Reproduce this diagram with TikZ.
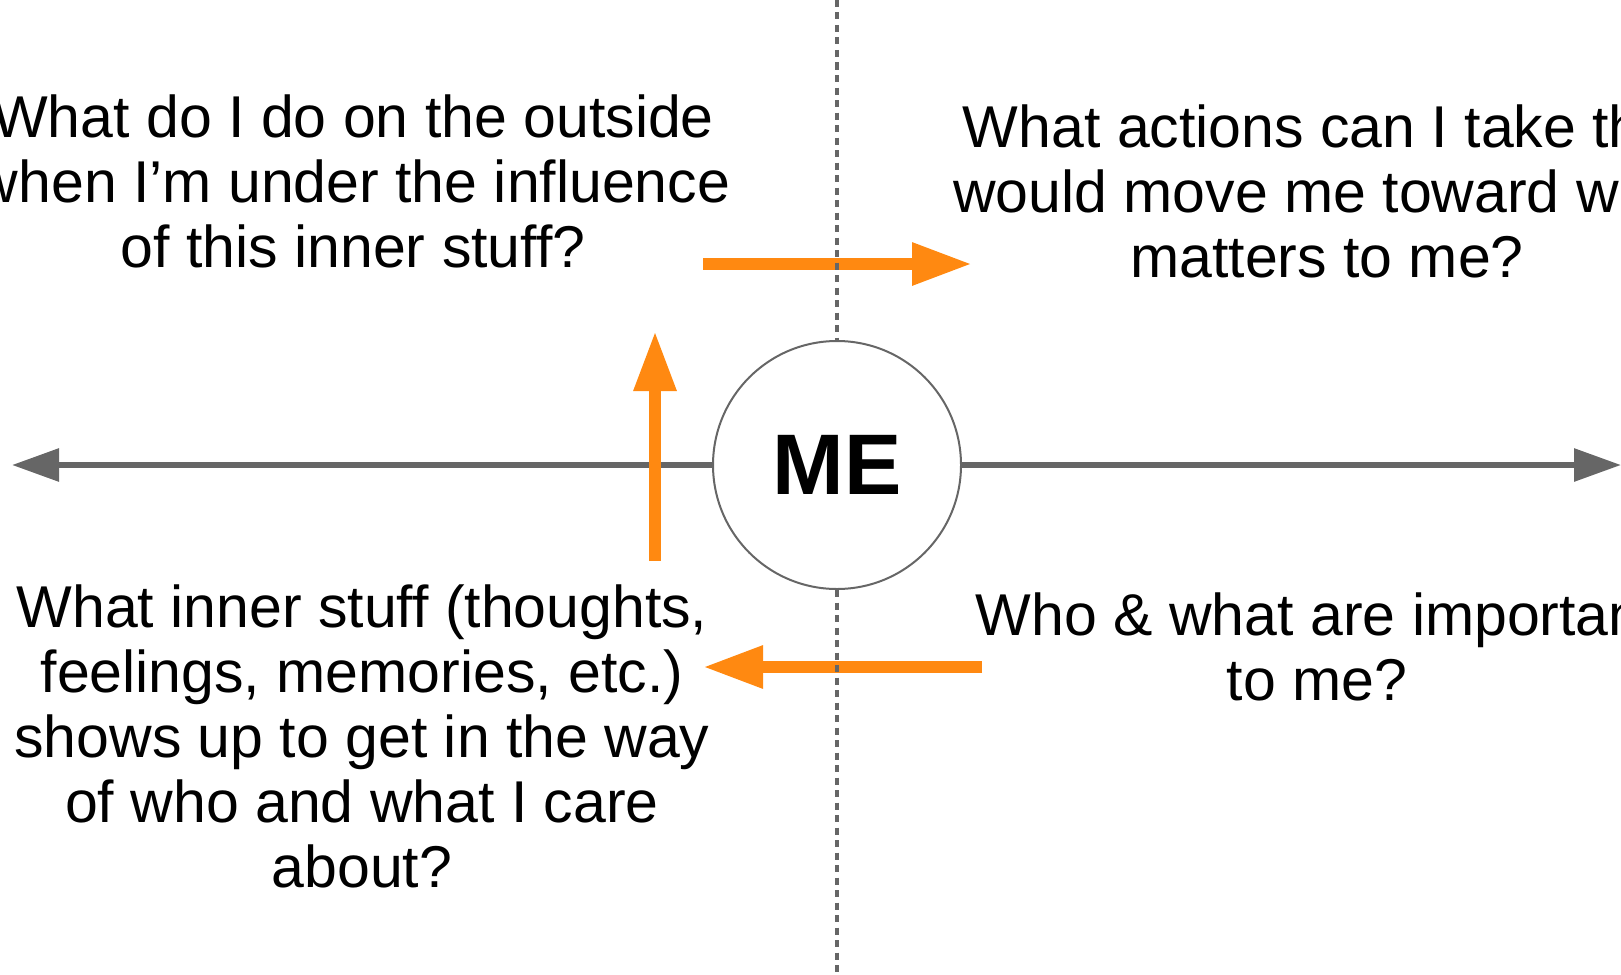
\documentclass[tikz,border=0pt]{standalone}
\usepackage{fontspec}
\setmainfont{Liberation Sans}
\usetikzlibrary{arrows.meta}

\definecolor{axisgray}{RGB}{102,102,102}
\definecolor{steporange}{RGB}{255,137,17}

\tikzset{
	question/.style={align=center, inner sep=0pt, font=\fontsize{59}{65}\selectfont},
	axis/.style={draw=axisgray, line width=6pt, -{Triangle[length=47pt,width=32pt]}},
	move/.style={draw=steporange, line width=12pt, -{Triangle[length=60pt,width=40pt]}},
	divider/.style={draw=axisgray, line width=4pt, dash pattern=on 7pt off 5.5pt},
}

\begin{document}
\begin{tikzpicture}[x=1pt,y=-1pt]
			
			\useasboundingbox (0,0) rectangle (1621,974);
			
			% the self in the middle
			\node[circle, draw=axisgray, line width=2pt, minimum size=248pt, inner sep=0pt,
			      font=\fontsize{86}{86}\selectfont\bfseries] (me) at (837,465) {ME};
			
			% end points of the axes
			\coordinate (lefttip)  at (12,465);
			\coordinate (righttip) at (1621,465);
			\coordinate (divtop)   at (837,0);
			\coordinate (divbot)   at (837,972);
			
			% the four questions
			\node[question] (outside) at (353,181) {What do I do on the outside\\when I’m under the influence\\of this inner stuff?};
			\node[question] (actions) at (1327,191) {What actions can I take that\\would move me toward what\\matters to me?};
			\node[question] (inner) at (362,736) {What inner stuff (thoughts,\\feelings, memories, etc.)\\shows up to get in the way\\of who and what I care\\about?};
			\node[question] (values) at (1317,647) {Who \& what are important\\to me?};
			
			% horizontal axis
			\draw[axis] (me.west) -- (lefttip);
			\draw[axis] (me.east) -- (righttip);
			
			% orange steps round the quadrants
			\coordinate (valstart) at (982,667);
			\coordinate (valend)   at (703,667);
			\coordinate (innstart) at (655,561);
			\coordinate (innend)   at (655,331);
			\coordinate (outstart) at (703,264);
			\coordinate (outend)   at (972,264);
			\draw[move] (valstart) -- (valend);
			\draw[move] (innstart) -- (innend);
			\draw[move] (outstart) -- (outend);
			
			% dashed divider, broken by the circle
			\draw[divider] (divtop) -- (me.north);
			\draw[divider] (me.south) -- (divbot);
			
		\end{tikzpicture}
\end{document}
